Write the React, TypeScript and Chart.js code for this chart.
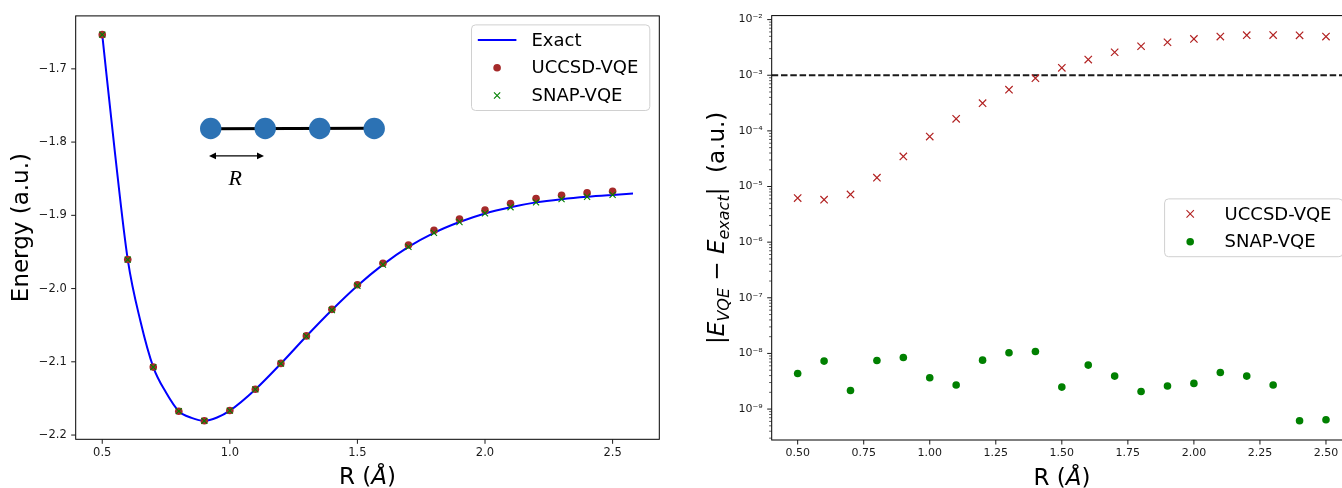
import React, { useEffect, useRef } from 'react';
import { Chart, registerables } from 'chart.js';

Chart.register(...registerables);

// ---------------- DATA ----------------
const R_POINTS = [0.5, 0.6, 0.7, 0.8, 0.9, 1.0, 1.1, 1.2, 1.3, 1.4, 1.5, 1.6, 1.7, 1.8, 1.9, 2.0, 2.1, 2.2, 2.3, 2.4, 2.5];

// exact curve
const EXACT_R = [0.5, 0.55, 0.6, 0.65, 0.7, 0.75, 0.8, 0.85, 0.9, 0.95, 1.0, 1.1, 1.2, 1.3, 1.4, 1.5, 1.6, 1.7, 1.8, 1.9, 2.0, 2.1, 2.2, 2.3, 2.4, 2.5, 2.58];
const EXACT_E = [-1.6533, -1.815, -1.9604, -2.045, -2.1072, -2.142, -2.1674, -2.1765, -2.1806, -2.176, -2.1666, -2.1377, -2.1025, -2.0651, -2.0293, -1.9962, -1.9673, -1.9431, -1.9239, -1.9091, -1.8974, -1.8889, -1.8823, -1.8779, -1.8746, -1.8721, -1.8703];

const UCCSD_E = [-1.6533, -1.9604, -2.1072, -2.1674, -2.1805, -2.1665, -2.1375, -2.1022, -2.0646, -2.0284, -1.9948, -1.9654, -1.9405, -1.9206, -1.9052, -1.8929, -1.8839, -1.8771, -1.8726, -1.8694, -1.8671];
const SNAP_E = [-1.6533, -1.9604, -2.1072, -2.1674, -2.1806, -2.1666, -2.1377, -2.1025, -2.0651, -2.0293, -1.9962, -1.9673, -1.9431, -1.9239, -1.9091, -1.8974, -1.8889, -1.8823, -1.8779, -1.8746, -1.8721];

const UCCSD_ERR = [6.2e-6, 5.8e-6, 7.2e-6, 1.44e-5, 3.47e-5, 7.9e-5, 1.65e-4, 3.15e-4, 5.5e-4, 8.85e-4, 1.36e-3, 1.91e-3, 2.59e-3, 3.32e-3, 3.92e-3, 4.5e-3, 4.95e-3, 5.24e-3, 5.28e-3, 5.22e-3, 4.95e-3];
const SNAP_ERR = [4.37e-9, 7.28e-9, 2.16e-9, 7.48e-9, 8.47e-9, 3.65e-9, 2.7e-9, 7.57e-9, 1.03e-8, 1.08e-8, 2.48e-9, 6.17e-9, 3.91e-9, 2.07e-9, 2.59e-9, 2.89e-9, 4.55e-9, 3.91e-9, 2.7e-9, 6.17e-10, 6.43e-10];

const THRESHOLD = 1e-3;

const LEFT_X_TICKS = [0.5, 1.0, 1.5, 2.0, 2.5];
const LEFT_Y_TICKS = [-2.2, -2.1, -2.0, -1.9, -1.8, -1.7];
const RIGHT_X_TICKS = [0.5, 0.75, 1.0, 1.25, 1.5, 1.75, 2.0, 2.25, 2.5];
const RIGHT_Y_EXPONENTS = [-10, -9, -8, -7, -6, -5, -4, -3, -2];

const LEFT_X_RANGE = [0.396, 2.683];
const LEFT_Y_RANGE = [-2.2058, -1.6277];
const RIGHT_X_RANGE = [0.4017, 2.6];
const RIGHT_Y_RANGE = [2.78e-10, 1.18e-2];

// ---------------- STYLE ----------------
const FAM = '"DejaVu Sans"';
const BLUE = '#0000ff';
const BROWN = '#a52a2a';
const RED = '#b22222';
const GREEN = '#008000';
const TICK_COLOR = '#1a1a1a';

type Seg = { text: string; font: string; dy?: number };
type LegendItem = { label: string; kind: 'line' | 'dot' | 'cross'; color: string; size: number };

const SUP: Record<string, string> = { '-': '⁻', '0': '⁰', '1': '¹', '2': '²', '3': '³', '4': '⁴', '5': '⁵', '6': '⁶', '7': '⁷', '8': '⁸', '9': '⁹' };
const sup = (s: string) => s.split('').map((c) => SUP[c] || c).join('');

function drawRich(ctx: CanvasRenderingContext2D, segs: Seg[], cx: number, cy: number, rotate: boolean) {
  ctx.save();
  ctx.translate(cx, cy);
  if (rotate) ctx.rotate(-Math.PI / 2);
  ctx.textBaseline = 'alphabetic';
  ctx.textAlign = 'left';
  ctx.fillStyle = '#000';
  const widths = segs.map((s) => {
    ctx.font = s.font;
    return ctx.measureText(s.text).width;
  });
  const total = widths.reduce((a, b) => a + b, 0);
  let x = -total / 2;
  segs.forEach((s, i) => {
    ctx.font = s.font;
    ctx.fillText(s.text, x, s.dy || 0);
    x += widths[i];
  });
  ctx.restore();
}

function drawMarker(ctx: CanvasRenderingContext2D, item: LegendItem, x: number, y: number) {
  ctx.save();
  if (item.kind === 'line') {
    ctx.strokeStyle = item.color;
    ctx.lineWidth = 2;
    ctx.beginPath();
    ctx.moveTo(x - 19.3, y);
    ctx.lineTo(x + 19.3, y);
    ctx.stroke();
  } else if (item.kind === 'dot') {
    ctx.fillStyle = item.color;
    ctx.beginPath();
    ctx.arc(x, y, item.size, 0, Math.PI * 2);
    ctx.fill();
  } else {
    const s = item.size;
    ctx.strokeStyle = item.color;
    ctx.lineWidth = 1.1;
    ctx.beginPath();
    ctx.moveTo(x - s, y - s);
    ctx.lineTo(x + s, y + s);
    ctx.moveTo(x - s, y + s);
    ctx.lineTo(x + s, y - s);
    ctx.stroke();
  }
  ctx.restore();
}

function roundRect(ctx: CanvasRenderingContext2D, x: number, y: number, w: number, h: number, r: number) {
  ctx.beginPath();
  ctx.moveTo(x + r, y);
  ctx.arcTo(x + w, y, x + w, y + h, r);
  ctx.arcTo(x + w, y + h, x, y + h, r);
  ctx.arcTo(x, y + h, x, y, r);
  ctx.arcTo(x, y, x + w, y, r);
  ctx.closePath();
}

interface DecorCfg {
  xTitle: Seg[];
  yTitle: Seg[];
  legendItems: LegendItem[];
  legendLoc: 'upper right' | 'center right';
  legendWidth: number;
  threshold?: number;
  inset?: boolean;
}

function makeDecor(cfg: DecorCfg) {
  return {
    id: 'decor',
    beforeDatasetsDraw(chart: any) {
      if (cfg.threshold === undefined) return;
      const ctx = chart.ctx as CanvasRenderingContext2D;
      const ca = chart.chartArea;
      const py = chart.scales.y.getPixelForValue(cfg.threshold);
      ctx.save();
      ctx.strokeStyle = '#1a1a1a';
      ctx.lineWidth = 1.8;
      ctx.setLineDash([6.5, 2.8]);
      ctx.beginPath();
      ctx.moveTo(ca.left, py);
      ctx.lineTo(ca.right, py);
      ctx.stroke();
      ctx.restore();
    },
    afterDraw(chart: any) {
      const ctx = chart.ctx as CanvasRenderingContext2D;
      const ca = chart.chartArea;
      // frame
      ctx.save();
      ctx.strokeStyle = '#000';
      ctx.lineWidth = 1;
      ctx.strokeRect(ca.left, ca.top, ca.right - ca.left, ca.bottom - ca.top);
      // ticks
      ctx.strokeStyle = TICK_COLOR;
      const xs = chart.scales.x;
      const ys = chart.scales.y;
      ctx.lineWidth = 1;
      ctx.beginPath();
      for (const t of xs.ticks) {
        const px = xs.getPixelForValue(t.value);
        if (px < ca.left - 0.5 || px > ca.right + 0.5) continue;
        ctx.moveTo(px, ca.bottom);
        ctx.lineTo(px, ca.bottom + 4.5);
      }
      ctx.stroke();
      for (const t of ys.ticks) {
        const py = ys.getPixelForValue(t.value);
        if (py < ca.top - 0.5 || py > ca.bottom + 0.5) continue;
        const major = t.major !== false;
        ctx.lineWidth = major ? 1 : 0.7;
        ctx.beginPath();
        ctx.moveTo(ca.left, py);
        ctx.lineTo(ca.left - (major ? 4.5 : 2.6), py);
        ctx.stroke();
      }
      ctx.restore();

      // axis titles
      drawRich(ctx, cfg.xTitle, (ca.left + ca.right) / 2, ca.bottom + 45, false);
      drawRich(ctx, cfg.yTitle, ca.left - 47.5, (ca.top + ca.bottom) / 2, true);

      // inset molecule
      if (cfg.inset) {
        ctx.save();
        const ox = ca.left;
        const oy = ca.top;
        const cxs = [135, 189.5, 244, 298.5];
        const cy = 112.6;
        ctx.strokeStyle = '#000';
        ctx.lineWidth = 3;
        ctx.beginPath();
        ctx.moveTo(ox + cxs[0], oy + cy + 0.3);
        ctx.lineTo(ox + cxs[3], oy + cy - 0.3);
        ctx.stroke();
        ctx.fillStyle = '#2c72b4';
        for (const c of cxs) {
          ctx.beginPath();
          ctx.arc(ox + c, oy + cy, 10.7, 0, Math.PI * 2);
          ctx.fill();
        }
        // double arrow
        const ay = oy + 140;
        const ax0 = ox + 133.3;
        const ax1 = ox + 188.3;
        ctx.lineWidth = 1.3;
        ctx.beginPath();
        ctx.moveTo(ax0 + 4, ay);
        ctx.lineTo(ax1 - 4, ay);
        ctx.stroke();
        ctx.fillStyle = '#000';
        ctx.beginPath();
        ctx.moveTo(ax0, ay);
        ctx.lineTo(ax0 + 7, ay - 3.3);
        ctx.lineTo(ax0 + 7, ay + 3.3);
        ctx.closePath();
        ctx.fill();
        ctx.beginPath();
        ctx.moveTo(ax1, ay);
        ctx.lineTo(ax1 - 7, ay - 3.3);
        ctx.lineTo(ax1 - 7, ay + 3.3);
        ctx.closePath();
        ctx.fill();
        ctx.font = 'italic 22px "Liberation Serif"';
        ctx.textAlign = 'center';
        ctx.textBaseline = 'alphabetic';
        ctx.fillText('R', ox + 159.5, oy + 168.8);
        ctx.restore();
      }

      // legend
      const rowGap = 27.8;
      const h = 15 * 2 + rowGap * (cfg.legendItems.length - 1);
      const w = cfg.legendWidth;
      const lx = ca.right - 9.5 - w;
      const ly = cfg.legendLoc === 'upper right' ? ca.top + 9 : (ca.top + ca.bottom) / 2 - h / 2;
      ctx.save();
      roundRect(ctx, lx, ly, w, h, 4);
      ctx.fillStyle = 'rgba(255,255,255,0.8)';
      ctx.fill();
      ctx.strokeStyle = '#d0d0d0';
      ctx.lineWidth = 1;
      ctx.stroke();
      ctx.font = `18px ${FAM}`;
      ctx.fillStyle = '#000';
      ctx.textBaseline = 'middle';
      ctx.textAlign = 'left';
      cfg.legendItems.forEach((it, i) => {
        const y = ly + 15 + i * rowGap;
        drawMarker(ctx, it, lx + 25.6, y);
        ctx.fillText(it.label, lx + 60, y + 1);
      });
      ctx.restore();
    },
  };
}

const fixedTicks = (vals: number[]) => (axis: any) => {
  axis.ticks = vals.map((v) => ({ value: v }));
};

function leftConfig(width: number): any {
  const datasets = [
    {
      label: 'Exact',
      data: EXACT_R.map((r, i) => ({ x: r, y: EXACT_E[i] })),
      showLine: true,
      borderColor: BLUE,
      borderWidth: 2,
      pointRadius: 0,
      pointHitRadius: 0,
      cubicInterpolationMode: 'monotone',
      fill: false,
      order: 3,
    },
    {
      label: 'UCCSD-VQE',
      data: R_POINTS.map((r, i) => ({ x: r, y: UCCSD_E[i] })),
      pointStyle: 'circle',
      pointRadius: 3.8,
      backgroundColor: BROWN,
      borderColor: BROWN,
      borderWidth: 0,
      order: 2,
    },
    {
      label: 'SNAP-VQE',
      data: R_POINTS.map((r, i) => ({ x: r, y: SNAP_E[i] })),
      pointStyle: 'crossRot',
      pointRadius: 4.3,
      borderColor: GREEN,
      backgroundColor: GREEN,
      borderWidth: 1.1,
      order: 1,
    },
  ];
  const tickFont = { family: 'DejaVu Sans', size: 11.5 };
  return {
    type: 'scatter',
    data: { datasets },
    options: {
      animation: false,
      responsive: false,
      devicePixelRatio: 1,
      events: [],
      layout: { padding: { left: 0, top: 13.7, right: width - 659.3, bottom: 0 } },
      plugins: { legend: { display: false }, tooltip: { enabled: false } },
      scales: {
        x: {
          type: 'linear',
          min: LEFT_X_RANGE[0],
          max: LEFT_X_RANGE[1],
          afterBuildTicks: fixedTicks(LEFT_X_TICKS),
          afterFit: (s: any) => { s.height = 48.7; },
          grid: { display: false, drawTicks: false },
          border: { display: false },
          ticks: { padding: 6.7, font: tickFont, color: TICK_COLOR, autoSkip: false, maxRotation: 0, callback: (v: number) => v.toFixed(1) },
        },
        y: {
          type: 'linear',
          min: LEFT_Y_RANGE[0],
          max: LEFT_Y_RANGE[1],
          afterBuildTicks: fixedTicks(LEFT_Y_TICKS),
          afterFit: (s: any) => { s.width = 75.7; },
          grid: { display: false, drawTicks: false },
          border: { display: false },
          ticks: { padding: 9, font: tickFont, color: TICK_COLOR, autoSkip: false, callback: (v: number) => v.toFixed(1).replace('-', '\u2212') },
        },
      },
    },
    plugins: [
      makeDecor({
        xTitle: [
          { text: 'R (', font: `23px ${FAM}` },
          { text: 'Å', font: `italic 23px ${FAM}` },
          { text: ')', font: `23px ${FAM}` },
        ],
        yTitle: [{ text: 'Energy (a.u.)', font: `23px ${FAM}` }],
        legendItems: [
          { label: 'Exact', kind: 'line', color: BLUE, size: 0 },
          { label: 'UCCSD-VQE', kind: 'dot', color: BROWN, size: 3.8 },
          { label: 'SNAP-VQE', kind: 'cross', color: GREEN, size: 3.1 },
        ],
        legendLoc: 'upper right',
        legendWidth: 178.3,
        inset: true,
      }),
    ],
  };
}

function rightConfig(width: number, leftOffset: number): any {
  const datasets = [
    {
      label: 'UCCSD-VQE',
      data: R_POINTS.map((r, i) => ({ x: r, y: UCCSD_ERR[i] })),
      pointStyle: 'crossRot',
      pointRadius: 5.2,
      borderColor: RED,
      backgroundColor: RED,
      borderWidth: 1.2,
    },
    {
      label: 'SNAP-VQE',
      data: R_POINTS.map((r, i) => ({ x: r, y: SNAP_ERR[i] })),
      pointStyle: 'circle',
      pointRadius: 3.8,
      backgroundColor: GREEN,
      borderColor: GREEN,
      borderWidth: 0,
    },
  ];
  const yTicks: { value: number; major: boolean }[] = [];
  for (const e of RIGHT_Y_EXPONENTS) {
    for (let k = 1; k <= 9; k++) {
      const v = Number((k * Math.pow(10, e)).toPrecision(6));
      if (v >= RIGHT_Y_RANGE[0] && v <= RIGHT_Y_RANGE[1]) yTicks.push({ value: v, major: k === 1 });
    }
  }
  const tickFont = { family: 'DejaVu Sans', size: 11 };
  return {
    type: 'scatter',
    data: { datasets },
    options: {
      animation: false,
      responsive: false,
      devicePixelRatio: 1,
      events: [],
      layout: { padding: { left: 0, top: 15, right: width - (1352.4 - leftOffset), bottom: 0 } },
      plugins: { legend: { display: false }, tooltip: { enabled: false } },
      scales: {
        x: {
          type: 'linear',
          min: RIGHT_X_RANGE[0],
          max: RIGHT_X_RANGE[1],
          afterBuildTicks: fixedTicks(RIGHT_X_TICKS),
          afterFit: (s: any) => { s.height = 48; },
          grid: { display: false, drawTicks: false },
          border: { display: false },
          ticks: { padding: 6.7, font: tickFont, color: TICK_COLOR, autoSkip: false, maxRotation: 0, callback: (v: number) => v.toFixed(2) },
        },
        y: {
          type: 'logarithmic',
          min: RIGHT_Y_RANGE[0],
          max: RIGHT_Y_RANGE[1],
          afterBuildTicks: (axis: any) => {
            axis.ticks = yTicks.map((t) => ({ value: t.value, major: t.major }));
          },
          afterFit: (s: any) => { s.width = 771.7 - leftOffset; },
          grid: { display: false, drawTicks: false },
          border: { display: false },
          ticks: {
            padding: 9,
            font: tickFont,
            color: TICK_COLOR,
            autoSkip: false,
            callback: (v: number) => {
              const l = Math.log10(v);
              const r = Math.round(l);
              return Math.abs(l - r) < 1e-6 ? '10' + sup(String(r)) : '';
            },
          },
        },
      },
    },
    plugins: [
      makeDecor({
        xTitle: [
          { text: 'R (', font: `23px ${FAM}` },
          { text: 'Å', font: `italic 23px ${FAM}` },
          { text: ')', font: `23px ${FAM}` },
        ],
        yTitle: [
          { text: '|', font: `23px ${FAM}` },
          { text: 'E', font: `italic 23px ${FAM}` },
          { text: 'VQE', font: `italic 16px ${FAM}`, dy: 4.6 },
          { text: ' − ', font: `23px ${FAM}` },
          { text: 'E', font: `italic 23px ${FAM}` },
          { text: 'exact', font: `italic 16px ${FAM}`, dy: 4.6 },
          { text: '|', font: `23px ${FAM}` },
          { text: '  (a.u.)', font: `23px ${FAM}` },
        ],
        legendItems: [
          { label: 'UCCSD-VQE', kind: 'cross', color: RED, size: 3.7 },
          { label: 'SNAP-VQE', kind: 'dot', color: GREEN, size: 3.8 },
        ],
        legendLoc: 'center right',
        legendWidth: 178.3,
        threshold: THRESHOLD,
      }),
    ],
  };
}

const LEFT_W = 670;
const RIGHT_LEFT = 680;
const RIGHT_W = 700;
const H = 488;

export default function App() {
  const leftRef = useRef<HTMLCanvasElement>(null);
  const rightRef = useRef<HTMLCanvasElement>(null);

  useEffect(() => {
    const l = new Chart(leftRef.current as HTMLCanvasElement, leftConfig(LEFT_W));
    const r = new Chart(rightRef.current as HTMLCanvasElement, rightConfig(RIGHT_W, RIGHT_LEFT));
    return () => {
      l.destroy();
      r.destroy();
    };
  }, []);

  return (
    <div style={{ position: 'fixed', left: 0, top: 0, width: 1342, height: H, overflow: 'hidden', background: '#fff' }}>
      <canvas ref={leftRef} width={LEFT_W} height={H} style={{ position: 'absolute', left: 0, top: 0, width: LEFT_W, height: H }} />
      <canvas ref={rightRef} width={RIGHT_W} height={H} style={{ position: 'absolute', left: RIGHT_LEFT, top: 0, width: RIGHT_W, height: H }} />
    </div>
  );
}
